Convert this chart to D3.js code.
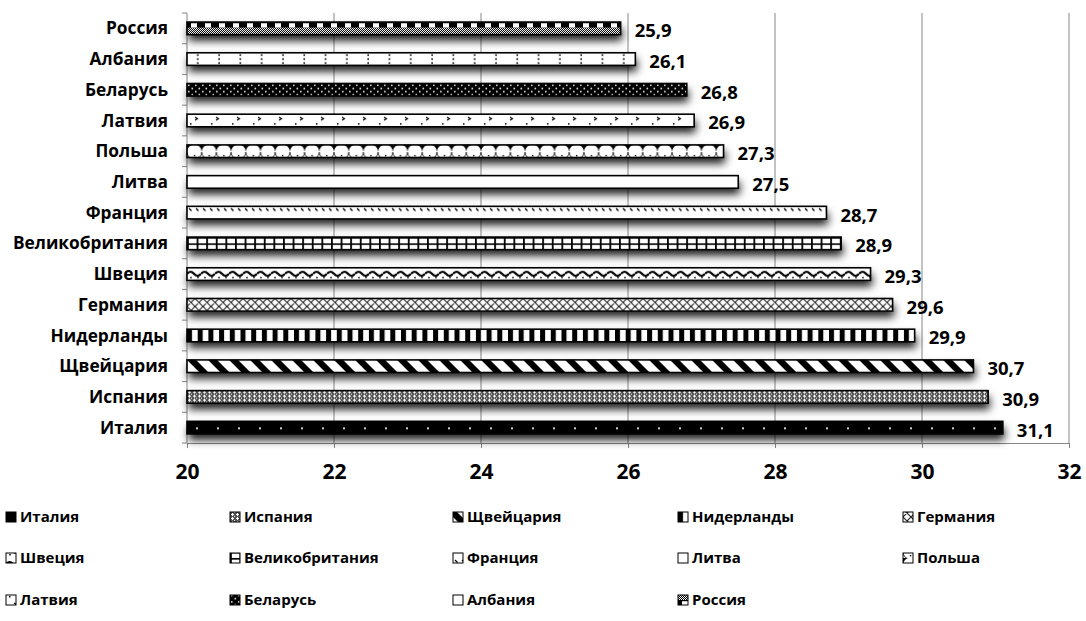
<!DOCTYPE html>
<html>
<head>
<meta charset="utf-8">
<script src="https://cdn.jsdelivr.net/npm/d3@7"></script>
<style>
  html, body { margin: 0; padding: 0; background: #fff; }
  svg { display: block; }
  text { font-family: "Open Sans", Lato, "DejaVu Sans", sans-serif; font-weight: 700; fill: #000; }
</style>
</head>
<body>
<svg id="chart" width="1086" height="621"></svg>
<script>
// Countries, bottom to top, and their values
const categories = ["Италия", "Испания", "Щвейцария", "Нидерланды", "Германия", "Швеция",
  "Великобритания", "Франция", "Литва", "Польша", "Латвия", "Беларусь", "Албания", "Россия"];
const values = [31.1, 30.9, 30.7, 29.9, 29.6, 29.3, 28.9, 28.7, 27.5, 27.3, 26.9, 26.8, 26.1, 25.9];
const xTicks = [20, 22, 24, 26, 28, 30, 32];
// Fill pattern ids, one per country, same order as categories
const patternKeys = ["italy", "spain", "swiss", "nether", "germany", "sweden",
  "uk", "france", "lith", "poland", "latvia", "belarus", "albania", "russia"];

const svg = d3.select("#chart");
const plot = { left: 187, right: 1069, top: 13, bottom: 443 };

const x = d3.scaleLinear().domain([20, 32]).range([plot.left, plot.right]);
const y = d3.scaleBand().domain(categories).range([plot.bottom, plot.top])
  .paddingInner(0.59).paddingOuter(0.295);
const step = y.step();
const bw = y.bandwidth();

// ---------- patterns ----------
const defs = svg.append("defs");
function pat(id, w, h, extra) {
  const p = defs.append("pattern").attr("id", id)
    .attr("patternUnits", "userSpaceOnUse").attr("width", w).attr("height", h);
  if (extra) p.attr("patternTransform", extra);
  return p;
}
function r(p, x0, y0, w, h, fill) {
  p.append("rect").attr("x", x0).attr("y", y0).attr("width", w).attr("height", h).attr("fill", fill);
}

// fine checker used inside other patterns
let p = pat("fine", 2, 2); r(p, 0, 0, 2, 2, "#fff"); r(p, 0, 0, 1, 1, "#000"); r(p, 1, 1, 1, 1, "#000");

// Италия: black with a sparse row of light dots
p = pat("italy", 21, 13); r(p, 0, 0, 21, 13, "#000"); r(p, 9, 6, 2, 2, "#ccc");
// Испания: small crosses on grey
p = pat("spain", 5, 4); r(p, 0, 0, 5, 4, "#555"); r(p, 1, 1, 3, 1, "#fff"); r(p, 2, 0, 1, 3, "#fff"); r(p, 4, 3, 1, 1, "#eee");
// Щвейцария: wide downward diagonal
p = pat("swiss", 21, 13, "skewX(45)"); r(p, 0, 0, 21, 13, "#fff"); r(p, 0, 0, 9, 13, "#000");
// Нидерланды: wide vertical stripes
p = pat("nether", 10.7, 13); r(p, 0, 0, 10.7, 13, "#fff"); r(p, 0, 0, 5, 13, "#000");
// Германия: diagonal crosshatch
p = pat("germany", 8, 8); r(p, 0, 0, 8, 8, "#fff");
p.append("path").attr("d", "M0,0L8,8M8,0L0,8M-1,7L1,9M7,-1L9,1M-1,1L1,-1M7,9L9,7")
  .attr("stroke", "#222").attr("stroke-width", 1.1);
// Швеция: waves
p = pat("sweden", 14, 13); r(p, 0, 0, 14, 13, "#fff");
p.append("path").attr("d", "M0,6 Q3.5,2 7,6 T14,6").attr("fill", "none").attr("stroke", "#000").attr("stroke-width", 2.2);
r(p, 3, 9, 2, 1.5, "#444"); r(p, 10, 9, 2, 1.5, "#444");
// Великобритания: large grid
p = pat("uk", 9.6, bw / 2); r(p, 0, 0, 9.6, bw / 2, "#fff"); r(p, 0, 0, 1.8, bw / 2, "#000"); r(p, 0, 0, 9.6, 1.6, "#000");
// Франция: short dashed diagonals
p = pat("france", 7, 13); r(p, 0, 0, 7, 13, "#fff");
p.append("path").attr("d", "M2,2 L4.5,4.5").attr("stroke", "#000").attr("stroke-width", 1.3);
// Литва: plain white
p = pat("lith", 10, 10); r(p, 0, 0, 10, 10, "#fff");
// Польша: scallops
p = pat("poland", 14.7, 13); r(p, 0, 0, 14.7, 13, "#fff"); r(p, 0, 0, 14.7, 6, "#000");
p.append("path").attr("d", "M0,7 A7.35,7.35 0 0 1 14.7,7 Z").attr("fill", "#fff");
p.append("path").attr("d", "M0,7 A7.35,7.35 0 0 0 14.7,7").attr("fill", "none").attr("stroke", "#000").attr("stroke-width", 0.8);
r(p, 6.8, 10, 1.4, 1.4, "#000");
// Латвия: sparse divots
p = pat("latvia", 21, 13); r(p, 0, 0, 21, 13, "#fff");
p.append("path").attr("d", "M8,3 L10.5,4.5 L8,6").attr("fill", "none").attr("stroke", "#000").attr("stroke-width", 1.2);
r(p, 3, 9, 1.5, 1.5, "#000");
// Беларусь: black with dotted grid
p = pat("belarus", 7, 6.3); r(p, 0, 0, 7, 6.3, "#000"); r(p, 1, 1, 1.6, 1.6, "#ddd"); r(p, 4.5, 4.2, 1.6, 1.6, "#ddd");
// Албания: sparse vertical dotted lines
p = pat("albania", 21.3, 13); r(p, 0, 0, 21.3, 13, "#fff");
r(p, 10, 1.5, 1.6, 1.6, "#000"); r(p, 10, 5.5, 1.6, 1.6, "#000"); r(p, 10, 9.5, 1.6, 1.6, "#000");
// Россия: black band with white blocks above a fine check
p = pat("russia", 14, 13); r(p, 0, 0, 14, 13, "url(#fine)"); r(p, 0, 0, 14, 5.5, "#000"); r(p, 4, 1.2, 6, 4.3, "#fff");

// bar shadow
const f = defs.append("filter").attr("id", "shadow").attr("x", "-5%").attr("y", "-50%").attr("width", "115%").attr("height", "300%");
f.append("feDropShadow").attr("dx", 1.5).attr("dy", 6).attr("stdDeviation", 4)
  .attr("flood-color", "#000").attr("flood-opacity", 0.9);

// ---------- gridlines & axes ----------
const gridColor = "#868686";
svg.append("g").selectAll("line").data(xTicks.slice(1)).join("line")
  .attr("x1", d => x(d)).attr("x2", d => x(d))
  .attr("y1", plot.top).attr("y2", plot.bottom)
  .attr("stroke", gridColor).attr("stroke-width", 1);

// horizontal axis with downward ticks
const xAxis = svg.append("g").attr("transform", `translate(0,${plot.bottom})`)
  .call(d3.axisBottom(x).tickValues(xTicks).tickSize(5).tickPadding(16).tickFormat(d3.format("d")));
xAxis.select(".domain").attr("stroke", gridColor);
xAxis.selectAll(".tick line").attr("stroke", gridColor);
xAxis.selectAll(".tick text").style("font-size", "21px").attr("font-family", null);

// vertical axis: ticks at category boundaries
const bounds = categories.map(c => y(c) - (step - bw) / 2).concat([plot.bottom]);
const yAxis = svg.append("g");
yAxis.append("line").attr("x1", plot.left).attr("x2", plot.left)
  .attr("y1", plot.top).attr("y2", plot.bottom).attr("stroke", gridColor);
yAxis.selectAll("line.t").data(bounds).join("line").attr("class", "t")
  .attr("x1", plot.left - 5).attr("x2", plot.left)
  .attr("y1", d => d).attr("y2", d => d).attr("stroke", gridColor);
yAxis.selectAll("text").data(categories).join("text")
  .attr("x", plot.left - 19).attr("y", d => y(d) + bw / 2)
  .attr("text-anchor", "end").attr("dy", "0.35em")
  .style("font-size", "17.3px").text(d => d);

// ---------- bars ----------
const data = categories.map((c, i) => ({ c, v: values[i], k: patternKeys[i] }));
const bars = svg.append("g").selectAll("g").data(data).join("g")
  .attr("transform", d => `translate(${x(20)},${y(d.c)})`);
bars.append("rect")
  .attr("width", d => x(d.v) - x(20)).attr("height", bw)
  .attr("fill", "#fff").attr("filter", "url(#shadow)");
bars.append("rect")
  .attr("width", d => x(d.v) - x(20)).attr("height", bw)
  .attr("fill", d => `url(#${d.k})`)
  .attr("stroke", "#000").attr("stroke-width", 1.6);

// value labels
const fmt = v => d3.format(".1f")(v).replace(".", ",");
svg.append("g").selectAll("text").data(data).join("text")
  .attr("x", d => x(d.v) + 14).attr("y", d => y(d.c) + bw / 2 + 2.5)
  .attr("dy", "0.35em").style("font-size", "18.5px").text(d => fmt(d.v));

// ---------- legend ----------
const legendCols = [6, 230, 453, 678, 903];
const legendRows = [517, 558, 600];
const leg = svg.append("g").selectAll("g").data(data).join("g")
  .attr("transform", (d, i) => `translate(${legendCols[i % 5]},${legendRows[Math.floor(i / 5)]})`);
leg.append("rect").attr("x", 0).attr("y", -5).attr("width", 10).attr("height", 10)
  .attr("fill", d => `url(#${d.k})`).attr("stroke", "#000").attr("stroke-width", 1);
leg.append("text").attr("x", 14).attr("y", 0).attr("dy", "0.35em")
  .style("font-size", "15px").text(d => d.c);
</script>
</body>
</html>
